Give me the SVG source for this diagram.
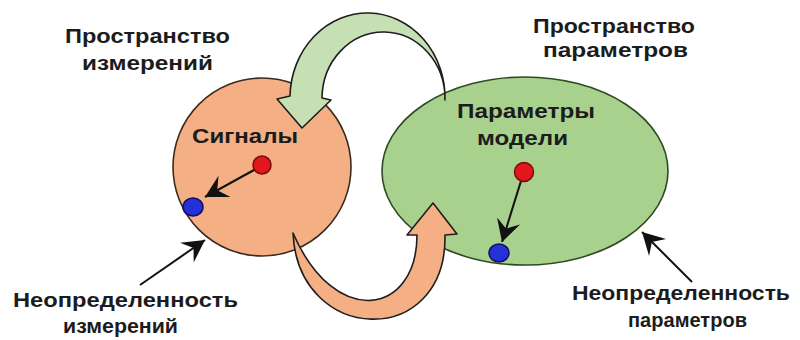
<svg xmlns="http://www.w3.org/2000/svg" width="800" height="340" viewBox="0 0 800 340">
<style>
  text { font-family: "Liberation Sans", Arial, sans-serif; font-weight: bold; font-size: 21px; fill: #1c1c1c; }
  .shape { stroke-width: 1.6; stroke-linejoin: round; }
  .ptr { stroke: #111; stroke-width: 2; fill: none; }
  .red { fill: #E3161C; stroke: #7a0a0a; stroke-width: 1.5; }
  .blue { fill: #2430D8; stroke: #101060; stroke-width: 1.5; }
</style>
<defs>
  <marker id="head" markerUnits="userSpaceOnUse" markerWidth="24" markerHeight="26" viewBox="-22 -13 24 26" refX="0" refY="0" orient="auto">
    <path d="M0,0 L-22,-12 L-14,0 L-22,12 Z" fill="#111"/>
  </marker>
</defs>
<rect width="800" height="340" fill="#fff"/>

<g id="measurement-space">
  <circle class="shape" cx="262" cy="167" r="89" fill="#F4B084" stroke="#3b2a1e"/>
  <text x="192" y="143" textLength="106" lengthAdjust="spacingAndGlyphs" fill="#2a1a12">Сигналы</text>
</g>

<g id="parameter-space">
  <ellipse class="shape" cx="525" cy="171" rx="143" ry="94" fill="#A9D18E" stroke="#2e4a22"/>
  <text x="457" y="118" textLength="138" lengthAdjust="spacingAndGlyphs" fill="#14220f">Параметры</text>
  <text x="477" y="145" textLength="91" lengthAdjust="spacingAndGlyphs" fill="#14220f">модели</text>
</g>

<g id="connectors">
  <path id="arrow-inverse" class="shape" fill="#C6E0B4" stroke="#1e1e1e" d="M445,100 A77.5,85 0 0 0 290,96 L277,99 L302,128 L331,100 L322,98 A61.5,67 0 0 1 445,100 Z"/>
  <path id="arrow-forward" class="shape" fill="#F4B084" stroke="#1e1e1e" d="M293,233 C298,345 447,350 445,235 L457,234 L433,203 L407,235 L417,235 C417,315 335,330 293,233 Z"/>
  <line class="ptr" x1="254" y1="170" x2="205" y2="197" marker-end="url(#head)"/>
  <line class="ptr" x1="521" y1="181" x2="502" y2="242" marker-end="url(#head)"/>
  <line class="ptr" x1="140" y1="285" x2="205" y2="240" marker-end="url(#head)"/>
  <line class="ptr" x1="692" y1="282" x2="642" y2="232" marker-end="url(#head)"/>
</g>

<g id="signal-point">
  <circle class="red" cx="262" cy="165" r="9"/>
</g>
<g id="signal-uncertain">
  <ellipse class="blue" cx="193" cy="207" rx="10" ry="9"/>
</g>
<g id="param-point">
  <circle class="red" cx="524" cy="172" r="9.5"/>
</g>
<g id="param-uncertain">
  <ellipse class="blue" cx="499" cy="253" rx="10" ry="9"/>
</g>

<g id="label-measurement-space">
  <text x="65" y="43" textLength="165" lengthAdjust="spacingAndGlyphs">Пространство</text>
  <text x="82" y="70" textLength="131" lengthAdjust="spacingAndGlyphs">измерений</text>
</g>
<g id="label-parameter-space">
  <text x="533" y="33" textLength="162" lengthAdjust="spacingAndGlyphs">Пространство</text>
  <text x="543" y="57" textLength="145" lengthAdjust="spacingAndGlyphs">параметров</text>
</g>
<g id="label-measurement-uncertainty">
  <text x="13" y="307" textLength="225" lengthAdjust="spacingAndGlyphs">Неопределенность</text>
  <text x="63" y="333" textLength="115" lengthAdjust="spacingAndGlyphs">измерений</text>
</g>
<g id="label-parameter-uncertainty">
  <text x="572" y="300" textLength="218" lengthAdjust="spacingAndGlyphs">Неопределенность</text>
  <text x="628" y="327" textLength="119" lengthAdjust="spacingAndGlyphs">параметров</text>
</g>
</svg>
